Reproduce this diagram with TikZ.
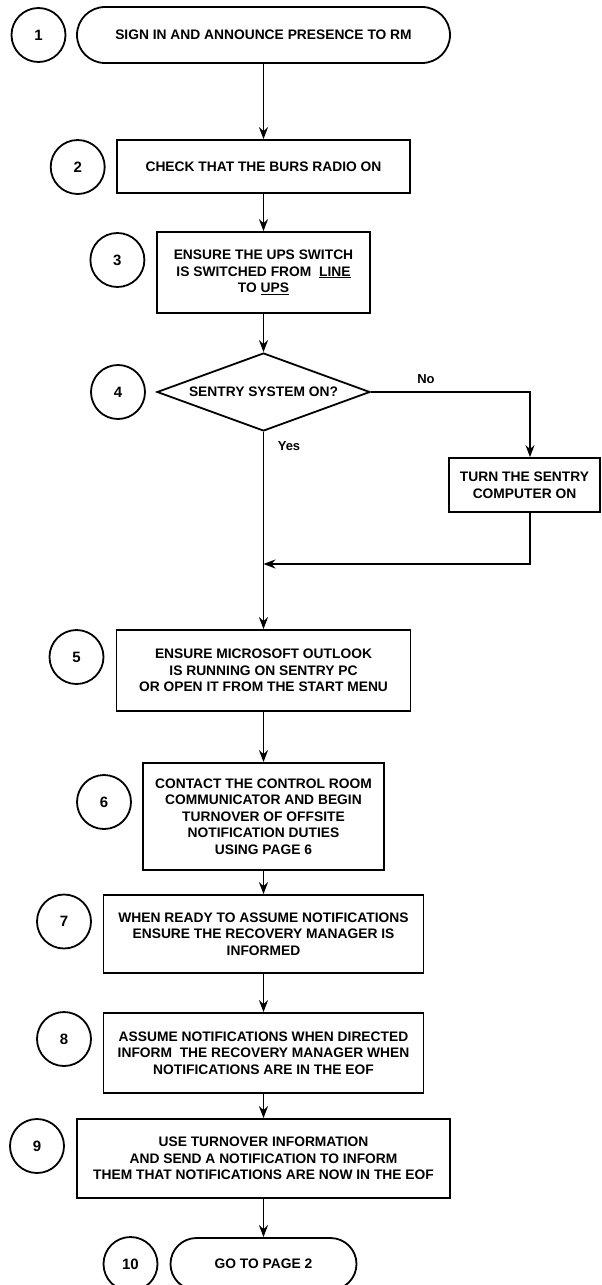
\documentclass[tikz,border=0pt]{standalone}
\usepackage{fontspec}
\setmainfont{Liberation Sans}
\usetikzlibrary{shapes.geometric,arrows.meta}
\begin{document}
\begin{tikzpicture}[x=1pt,y=-1pt,
  every node/.style={font=\fontsize{13.8}{16.5}\selectfont\bfseries, inner sep=0pt},
  numc/.style={draw, circle, line width=1.8pt, minimum size=54pt, font=\fontsize{15}{17}\selectfont\bfseries},
  procbox/.style={draw, rectangle, line width=1.8pt, align=center},
  term/.style={draw, rectangle, rounded corners=26pt, line width=1.8pt, align=center},
  decis/.style={draw, diamond, line width=1.8pt, shape aspect=2.73},
  lbl/.style={font=\fontsize{13}{15}\selectfont\bfseries},
  arr/.style={-{Stealth[length=12pt,width=9pt,inset=4pt]}, line width=1.8pt}
]
\useasboundingbox (0,0) rectangle (602,1285);

% step numbers
\node[numc] (c1) at (38.5,35) {1};
\node[numc] (c2) at (77.7,167) {2};
\node[numc] (c3) at (117.4,260) {3};
\node[numc] (c4) at (118,392) {4};
\node[numc] (c5) at (76.5,657) {5};
\node[numc] (c6) at (104,802) {6};
\node[numc] (c7) at (64,921.5) {7};
\node[numc] (c8) at (64,1039) {8};
\node[numc] (c9) at (37,1146) {9};
\node[numc] (c10) at (130.5,1264) {10};

% flow
\node[term, rounded corners=28pt, minimum width=373pt, minimum height=56pt] (s1) at (263.5,35) {SIGN IN AND ANNOUNCE PRESENCE TO RM};
\node[procbox, minimum width=293.5pt, minimum height=53pt] (b2) at (263.5,166.5) {CHECK THAT THE BURS RADIO ON};
\node[procbox, minimum width=213pt, minimum height=81pt] (b3) at (263.5,272.5) {ENSURE THE UPS SWITCH\\IS SWITCHED FROM\ \ \underline{LINE}\\TO \underline{UPS}};
\node[decis, minimum width=213pt, minimum height=78pt] (d4) at (263.5,392) {SENTRY SYSTEM ON?};
\node[procbox, minimum width=151pt, minimum height=54pt] (turn) at (524.5,485) {TURN THE SENTRY\\COMPUTER ON};
\node[procbox, minimum width=294pt, minimum height=81pt] (b5) at (263.5,670.5) {ENSURE MICROSOFT OUTLOOK\\IS RUNNING ON SENTRY PC\\OR OPEN IT FROM THE START MENU};
\node[procbox, minimum width=240.5pt, minimum height=107pt] (b6) at (263.5,816.5) {CONTACT THE CONTROL ROOM\\COMMUNICATOR AND BEGIN\\TURNOVER OF OFFSITE\\NOTIFICATION DUTIES\\USING PAGE 6};
\node[procbox, minimum width=320pt, minimum height=78pt] (b7) at (263.5,934) {WHEN READY TO ASSUME NOTIFICATIONS\\ENSURE THE RECOVERY MANAGER IS\\INFORMED};
\node[procbox, minimum width=320pt, minimum height=80pt] (b8) at (263.5,1053) {ASSUME NOTIFICATIONS WHEN DIRECTED\\INFORM\ \ THE RECOVERY MANAGER WHEN\\NOTIFICATIONS ARE IN THE EOF};
\node[procbox, minimum width=373pt, minimum height=79pt] (b9) at (263.5,1158.5) {USE TURNOVER INFORMATION\\AND SEND A NOTIFICATION TO INFORM\\THEM THAT NOTIFICATIONS ARE NOW IN THE EOF};
\node[term, minimum width=186pt, minimum height=52pt] (s10) at (263.5,1264) {GO TO PAGE 2};

\coordinate (m) at (263.5,564);

\draw[arr] (s1) -- (b2);
\draw[arr] (b2) -- (b3);
\draw[arr] (b3) -- (d4);
\draw[arr] (d4.east) -| ([xshift=5.5pt]turn.north);
\draw[arr] ([xshift=5.5pt]turn.south) |- (m);
\draw[arr] (d4.south) -- (b5.north);
\draw[arr] (b5) -- (b6);
\draw[arr] (b6) -- (b7);
\draw[arr] (b7) -- (b8);
\draw[arr] (b8) -- (b9);
\draw[arr] (b9) -- (s10);

\node[lbl] (no) at (426,379) {No};
\node[lbl] (yes) at (289,446) {Yes};
\end{tikzpicture}
\end{document}
